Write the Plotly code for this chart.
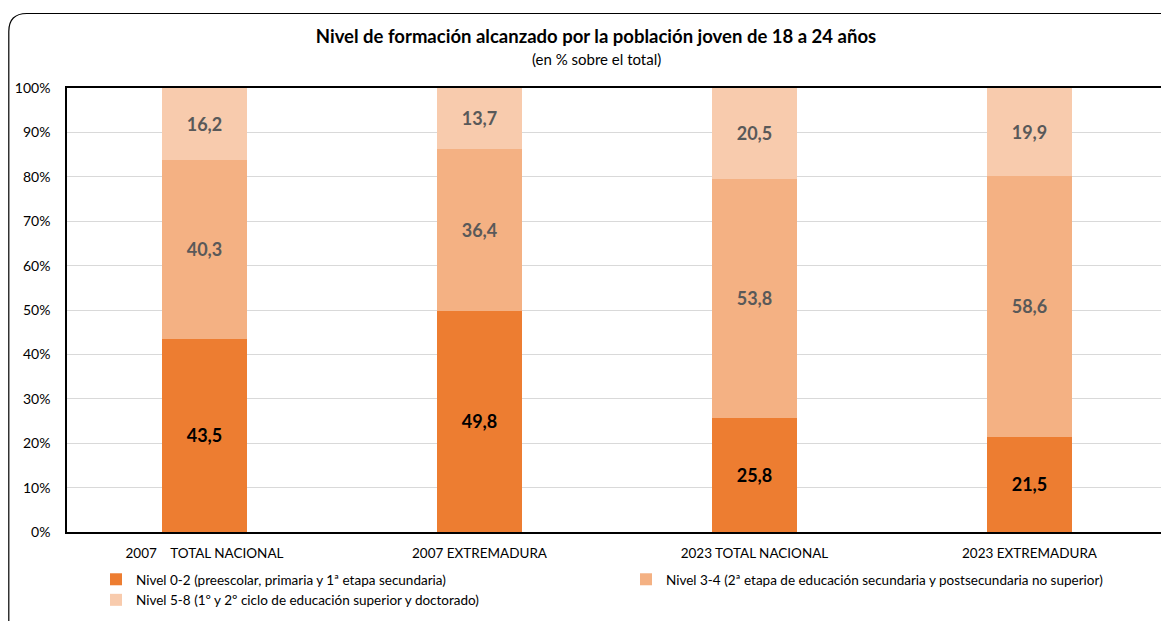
import plotly.graph_objects as go

categories = ["2007\u00a0\u00a0\u00a0\u00a0TOTAL NACIONAL", "2007 EXTREMADURA", "2023 TOTAL NACIONAL", "2023 EXTREMADURA"]
nivel_0_2 = [43.5, 49.8, 25.8, 21.5]
nivel_3_4 = [40.3, 36.4, 53.8, 58.6]
nivel_5_8 = [16.2, 13.7, 20.5, 19.9]
series_names = [
    "Nivel 0-2 (preescolar, primaria y 1ª etapa secundaria)",
    "Nivel 3-4 (2ª etapa de educación secundaria y postsecundaria no superior)",
    "Nivel 5-8 (1º y 2º ciclo de educación superior y doctorado)",
]
y_ticks = [0, 10, 20, 30, 40, 50, 60, 70, 80, 90, 100]

FONT = "Lato"
colors = ["#ED7D31", "#F4B183", "#F8CBAD"]
label_colors = ["#000000", "#595959", "#595959"]

fig = go.Figure()
for name, vals, col, lc in zip(series_names, [nivel_0_2, nivel_3_4, nivel_5_8], colors, label_colors):
    fig.add_trace(go.Bar(
        x=categories, y=vals, name=name,
        marker=dict(color=col, line=dict(width=0)),
        width=0.31,
        text=vals, texttemplate="<b>%{text:.1f}</b>",
        textposition="inside", insidetextanchor="middle", textangle=0,
        textfont=dict(family=FONT, size=18, color=lc),
    ))

# the page body adds an 8px offset, so the figure is 8px smaller than the window
W, H = 1161, 613
ml, mr, mt, mb = 59, 2, 80, 89
pw, ph = W - ml - mr, H - mt - mb

def px(x):
    return (x - ml) / pw

def py(y):
    return (H - mb - y) / ph

# rounded outer frame (top-left corner visible, rest runs off the picture)
x0, y0, x1, y1, r = px(0.8), py(5.5), px(1200), py(660), 18
rx, ry = r / pw, r / ph
frame = (f"M {x0},{y1} L {x0},{y0 - ry} Q {x0},{y0} {x0 + rx},{y0} L {x1},{y0}")

fig.update_layout(
    width=W, height=H,
    margin=dict(l=ml, r=mr, t=mt, b=mb, autoexpand=False),
    barmode="stack", barnorm="percent",
    separators=",.",
    plot_bgcolor="white", paper_bgcolor="white",
    font=dict(family=FONT, size=13, color="#000000"),
    title=dict(
        text="<b>Nivel de formación alcanzado por la población joven de 18 a 24 años</b>",
        x=px(588), xref="paper", xanchor="center", y=1 - 29 / H, yanchor="middle",
        font=dict(family=FONT, size=18.5, color="#000000"),
    ),
    annotations=[dict(
        text="(en % sobre el total)", x=px(588), y=py(51), xref="paper", yref="paper",
        xanchor="center", yanchor="middle", showarrow=False,
        font=dict(family=FONT, size=15, color="#000000"),
    )],
    xaxis=dict(
        showline=True, mirror=True, linecolor="#000000", linewidth=1.5,
        tickfont=dict(family=FONT, size=13.5, color="#000000"),
        ticks="", showgrid=False, ticklabelstandoff=8,
    ),
    yaxis=dict(
        range=[0, 100], tickvals=y_ticks, ticktext=[f"{v}%" for v in y_ticks],
        showline=True, mirror=True, linecolor="#000000", linewidth=1.5,
        showgrid=True, gridcolor="#D9D9D9", gridwidth=1,
        tickfont=dict(family=FONT, size=14, color="#000000"),
        ticks="", ticklabelstandoff=12, zeroline=False,
    ),
    legend=dict(
        orientation="h", x=px(88), xanchor="left", y=py(556), yanchor="top",
        entrywidth=485, entrywidthmode="pixels", traceorder="normal",
        font=dict(family=FONT, size=13.5, color="#000000"),
        itemwidth=30,
    ),
    shapes=[dict(type="path", path=frame, xref="paper", yref="paper",
                 line=dict(color="#000000", width=1.2), layer="above")],
)

fig.write_html("out.html")
